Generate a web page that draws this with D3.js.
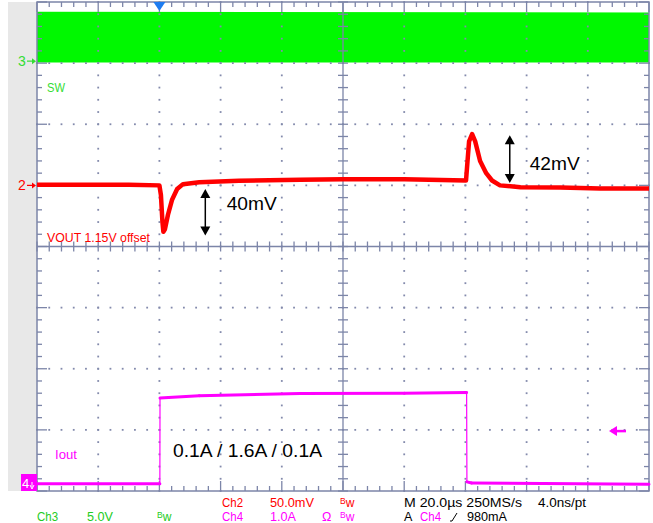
<!DOCTYPE html>
<html>
<head>
<meta charset="utf-8">
<script src="https://cdn.jsdelivr.net/npm/d3@7"></script>
<style>
body { margin: 0; background: #fff; }
svg text { font-family: "Liberation Sans", Arial, sans-serif; }
</style>
</head>
<body>
<div></div>
<script>
const width = 653;
const height = 523;

// time axis in us: 20us/div, 10 div, trigger 2 div from the left
const tRange = [-40, 160];

// Ch3 SW, volts (band low / high)
const swT = [-40, 160];
const swLow = [0.05, 0.05];
const swHigh = [4.2, 4.15];

// Ch2 VOUT, mV around the 1.15V offset
const voutT = [-40, -10, 0, 0.5, 1.0, 1.3, 1.8, 2.8, 4.1, 5.8, 7.7, 13, 26, 46, 60, 80, 100.2, 100.7, 101.2, 102.2, 103.2, 104.8, 106.8, 108.7, 111.3, 118, 131, 144, 160];
const voutMv = [0.5, 0.5, 0, -8, -30, -38, -36, -24, -12, -3, 1, 2.5, 3.7, 4.5, 5, 5, 4, 20, 36, 42, 36, 20, 10, 4, 0, -1.5, -1.8, -2.5, -2.5];

// Ch4 Iout, amps
const ioutT = [-40, 0.15, 0.2, 3, 13, 46, 80, 100.4, 100.5, 102, 160];
const ioutA = [0.12, 0.12, 1.52, 1.53, 1.56, 1.595, 1.6, 1.61, 0.15, 0.13, 0.11];

// annotations
const annT = [15, 114.5];
const annFrom = [-3, 2];
const annTo = [-41, 41];
const annLabel = ['40mV', '42mV'];
const annLabelT = [22, 121];
const annLabelMv = [-14.5, 18];

const trigLevel = 0.98;

const svg = d3.select('div').append('svg').attr('width', width).attr('height', height);

const pLeft = 37, pRight = 649, pTop = 2, pBottom = 491;
const x = d3.scaleLinear().domain(tRange).range([pLeft, pRight]);
const xDiv = d3.scaleLinear().domain([0, 10]).range([pLeft, pRight]);
const yDiv = d3.scaleLinear().domain([0, 8]).range([pTop, pBottom]);
const y2 = d3.scaleLinear().domain([-250, 150]).range([pBottom, pTop]);
const y3 = d3.scaleLinear().domain([-35, 5]).range([pBottom, pTop]);
const y4 = d3.scaleLinear().domain([0, 8]).range([pBottom, pTop]);

const gridCol = '#7c85a8';
const green = '#00f800', red = '#ff0000', pink = '#ff00ff';

svg.append('rect').attr('x', 8).attr('y', pTop).attr('width', pLeft - 8).attr('height', pBottom - pTop).attr('fill', '#e8e8e8');

// SW band
const swData = swT.map((t, i) => ({t: t, lo: swLow[i], hi: swHigh[i]}));
svg.append('path').datum(swData)
    .attr('d', d3.area().x(d => x(d.t)).y0(d => y3(d.lo)).y1(d => y3(d.hi)))
    .attr('fill', green);

// grid dots
const g = svg.append('g').attr('fill', '#838aac');
d3.range(1, 10).filter(i => i != 5).forEach(i => {
    d3.range(0, 41).forEach(j => {
        g.append('rect').attr('x', xDiv(i) - 0.9).attr('y', yDiv(j / 5) - 0.9).attr('width', 1.8).attr('height', 1.8);
    });
});
d3.range(1, 8).filter(k => k != 4).forEach(k => {
    d3.range(0, 51).forEach(j => {
        g.append('rect').attr('x', xDiv(j / 5) - 0.9).attr('y', yDiv(k) - 0.9).attr('width', 1.8).attr('height', 1.8);
    });
});

// edge ticks + centre cross
const tk = svg.append('g').attr('stroke', gridCol).attr('stroke-width', 1.3);
d3.range(0, 51).forEach(j => {
    const len = j % 5 == 0 ? 10 : 5;
    const xx = xDiv(j / 5);
    tk.append('line').attr('x1', xx).attr('x2', xx).attr('y1', pTop).attr('y2', pTop + len);
    tk.append('line').attr('x1', xx).attr('x2', xx).attr('y1', pBottom).attr('y2', pBottom - len);
    tk.append('line').attr('x1', xx).attr('x2', xx).attr('y1', yDiv(4) - 5).attr('y2', yDiv(4) + 5);
});
d3.range(0, 41).forEach(j => {
    const len = j % 5 == 0 ? 10 : 5;
    const yy = yDiv(j / 5);
    tk.append('line').attr('y1', yy).attr('y2', yy).attr('x1', pLeft).attr('x2', pLeft + len);
    tk.append('line').attr('y1', yy).attr('y2', yy).attr('x1', pRight).attr('x2', pRight - len);
    tk.append('line').attr('y1', yy).attr('y2', yy).attr('x1', xDiv(5) - 5).attr('x2', xDiv(5) + 5);
});
tk.append('line').attr('x1', pLeft).attr('x2', pRight).attr('y1', yDiv(4)).attr('y2', yDiv(4));
tk.append('line').attr('x1', xDiv(5)).attr('x2', xDiv(5)).attr('y1', pTop).attr('y2', pBottom);
svg.append('rect').attr('x', pLeft).attr('y', pTop).attr('width', pRight - pLeft).attr('height', pBottom - pTop)
    .attr('fill', 'none').attr('stroke', gridCol).attr('stroke-width', 1.5);

// traces
const voutData = voutT.map((t, i) => [t, voutMv[i]]);
svg.append('path').datum(voutData)
    .attr('d', d3.line().x(d => x(d[0])).y(d => y2(d[1])))
    .attr('fill', 'none').attr('stroke', red).attr('stroke-width', 4.5).attr('stroke-linejoin', 'round');

// Iout: thin steps, thick flat parts
const ioutData = ioutT.map((t, i) => [t, ioutA[i]]);
const ioLine = d3.line().x(d => x(d[0])).y(d => y4(d[1]));
svg.append('path').datum(ioutData)
    .attr('d', ioLine)
    .attr('fill', 'none').attr('stroke', pink).attr('stroke-width', 1.2);
d3.pairs(ioutData).filter(p => Math.abs(y4(p[1][1]) - y4(p[0][1])) < 20).forEach(p => {
    svg.append('path').datum(p).attr('d', ioLine)
        .attr('fill', 'none').attr('stroke', pink).attr('stroke-width', 3).attr('stroke-linecap', 'round');
});

// double arrows
annT.forEach((t, i) => {
    const xx = x(t), ya = y2(annFrom[i]), yb = y2(annTo[i]);
    const ya1 = Math.min(ya, yb), yb1 = Math.max(ya, yb);
    svg.append('line').attr('x1', xx).attr('x2', xx).attr('y1', ya1 + 6).attr('y2', yb1 - 6)
        .attr('stroke', '#000').attr('stroke-width', 1.5);
    svg.append('path').attr('d', `M${xx},${ya1}L${xx - 5},${ya1 + 9}L${xx + 5},${ya1 + 9}Z`).attr('fill', '#000');
    svg.append('path').attr('d', `M${xx},${yb1}L${xx - 5},${yb1 - 9}L${xx + 5},${yb1 - 9}Z`).attr('fill', '#000');
    svg.append('text').attr('x', x(annLabelT[i])).attr('y', y2(annLabelMv[i]) + 6.5)
        .attr('font-size', 18).attr('textLength', 50).attr('lengthAdjust', 'spacingAndGlyphs')
        .text(annLabel[i]);
});

svg.append('text').attr('x', 173).attr('y', 457).attr('font-size', 18)
    .attr('textLength', 149).attr('lengthAdjust', 'spacingAndGlyphs').text('0.1A / 1.6A / 0.1A');

// channel labels inside plot
function lab(txt, xx, yy, col, size, len) {
    const t = svg.append('text').attr('x', xx).attr('y', yy).attr('fill', col).attr('font-size', size).text(txt);
    if (len) t.attr('textLength', len).attr('lengthAdjust', 'spacingAndGlyphs');
    return t;
}
lab('SW', 47, 92, '#33dd33', 12.5, 18);
lab('VOUT 1.15V offset', 47, 242, red, 12.5, 103);
lab('Iout', 55, 459, pink, 12.5, 22);

// left channel markers
function marker(num, yy, col) {
    svg.append('text').attr('x', 18).attr('y', yy + 5).attr('fill', col).attr('font-size', 14).text(num);
    svg.append('line').attr('x1', 27).attr('x2', 33).attr('y1', yy).attr('y2', yy).attr('stroke', col).attr('stroke-width', 1.2);
    svg.append('path').attr('d', `M36,${yy}L32,${yy - 3}L32,${yy + 3}Z`).attr('fill', col);
}
marker('3', y3(0) - 2, '#33dd33');
marker('2', y2(0), red);
svg.append('rect').attr('x', 21).attr('y', 474).attr('width', 16).attr('height', 17).attr('fill', pink);
svg.append('text').attr('x', 22).attr('y', 488).attr('fill', '#fff').attr('font-size', 13).text('4');
svg.append('path').attr('d', 'M32,482L32,487M30,485L32,489L34,485').attr('stroke', '#fff').attr('fill', 'none').attr('stroke-width', 1);

// trigger markers
const tx = x(0);
svg.append('path').attr('d', `M${tx - 6},${pTop}L${tx + 6},${pTop}L${tx},${pTop + 9}Z`).attr('fill', '#1e7cf0');
const ty = y4(trigLevel);
svg.append('line').attr('x1', 616).attr('x2', 626).attr('y1', ty).attr('y2', ty).attr('stroke', pink).attr('stroke-width', 2.5);
svg.append('path').attr('d', `M609,${ty}L617,${ty - 5}L617,${ty + 5}Z`).attr('fill', pink);

// bottom readout
function bw(xx, yy, col) {
    const t = svg.append('text').attr('x', xx).attr('y', yy).attr('fill', col);
    t.append('tspan').attr('font-size', 8.5).attr('dy', -3).text('B');
    t.append('tspan').attr('font-size', 12).attr('dy', 3).text('w');
}
const r1 = 507, r2 = 521;
lab('Ch2', 222, r1, red, 12.5, 21);
lab('50.0mV', 270, r1, red, 12.5, 44);
bw(340, r1, red);
lab('M 20.0\u00b5s 250MS/s', 404, r1, '#000', 12.5, 118);
lab('4.0ns/pt', 538, r1, '#000', 12.5, 48);
lab('Ch3', 37, r2, '#22cc22', 12.5, 21);
lab('5.0V', 87, r2, '#22cc22', 12.5, 26);
bw(157, r2, '#22cc22');
lab('Ch4', 222, r2, pink, 12.5, 21);
lab('1.0A', 270, r2, pink, 12.5, 26);
lab('\u03a9', 322, r2, pink, 12.5);
bw(340, r2, pink);
lab('A', 404, r2, '#000', 12.5);
lab('Ch4', 420, r2, pink, 12.5, 21);
svg.append('path').attr('d', `M450,${r2}L452,${r2}L457,${r2 - 8}`).attr('stroke', '#000').attr('fill', 'none').attr('stroke-width', 1);
lab('980mA', 467, r2, '#000', 12.5, 40);
</script>
</body>
</html>
